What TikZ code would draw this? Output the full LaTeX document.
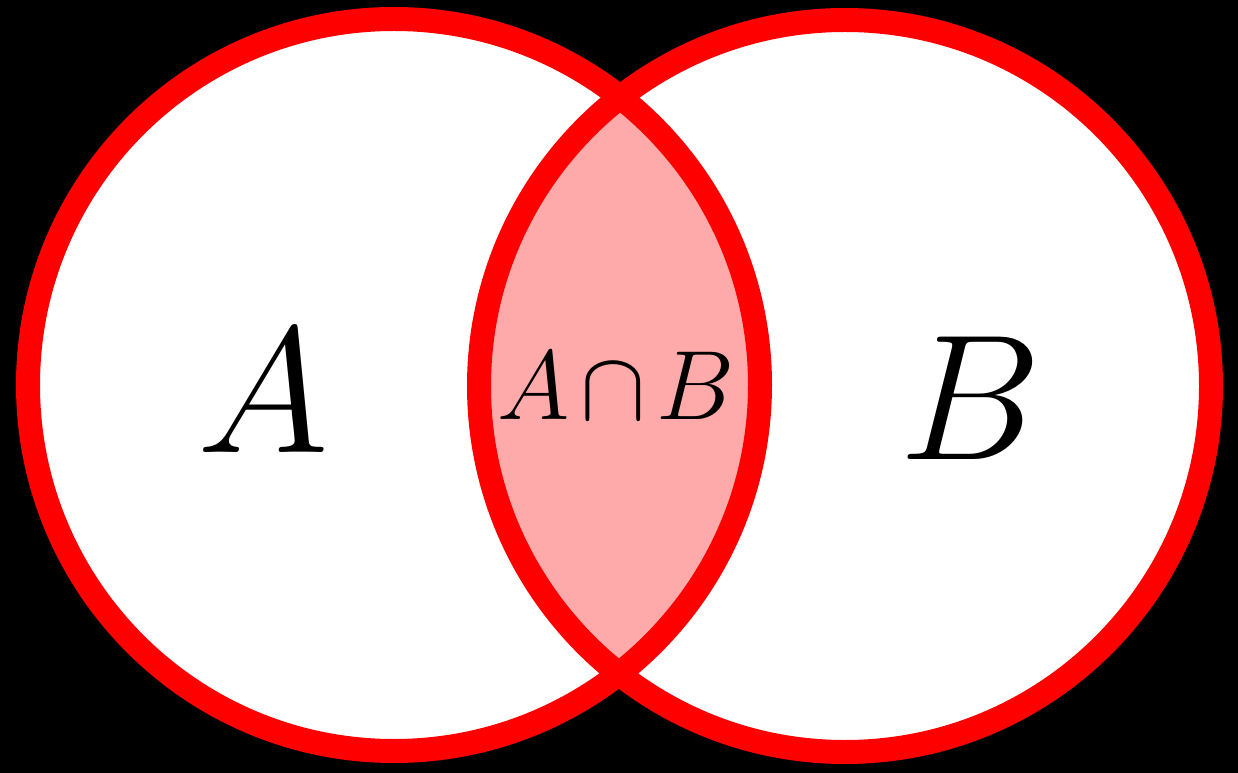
\RequirePackage{fix-cm}
\documentclass[tikz,border=0pt]{standalone}
\definecolor{ringred}{RGB}{255,0,0}
\definecolor{lenspink}{RGB}{255,170,170}
\begin{document}
\begin{tikzpicture}[x=0.02cm,y=-0.02cm,
  ring/.style={draw=ringred,line width=0.48cm},
  biglabel/.style={anchor=base,inner sep=0pt,font=\fontsize{102}{110}\selectfont},
  smalllabel/.style={anchor=base,inner sep=0pt,font=\fontsize{56}{60}\selectfont}]
\fill[black] (0,0) rectangle (1238,773);
\useasboundingbox (0,0) rectangle (1238,773);
\coordinate (ca) at (394,385);
\coordinate (cb) at (845,386);
\fill[white] (ca) circle (366);
\fill[white] (cb) circle (366);
\begin{scope}
  \clip (ca) circle (366);
  \fill[lenspink] (cb) circle (366);
\end{scope}
\draw[ring] (ca) circle (366);
\draw[ring] (cb) circle (366);
\node[biglabel] (la) at (263,453) {$A$};
\node[biglabel] (lb) at (971,460) {$B$};
\node[smalllabel] (lab) at (616,420) {$A\mskip2mu\mathord{\cap}\mskip2mu B$};
\end{tikzpicture}
\end{document}
